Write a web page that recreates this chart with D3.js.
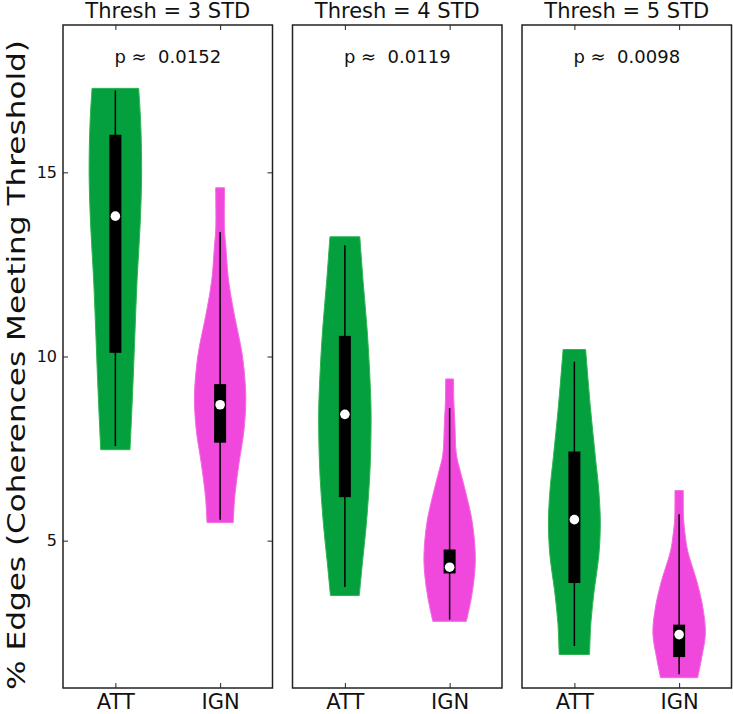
<!DOCTYPE html>
<html><head><meta charset="utf-8">
<script src="https://cdn.jsdelivr.net/npm/d3@7"></script>
<style>body{margin:0;background:#fff}text{font-family:"DejaVu Sans",sans-serif}</style>
</head><body>
<svg id="c" width="733" height="714"></svg>
<script>
// ---------- data ----------
const thresholds = ["Thresh = 3 STD", "Thresh = 4 STD", "Thresh = 5 STD"];
const pValues = ["0.0152", "0.0119", "0.0098"];
const groups = ["ATT", "IGN"];
const yTickValues = [5, 10, 15];
const yLabel = "% Edges (Coherences Meeting Threshold)";

const attMedian = [13.81, 8.43, 5.57];
const attQ1 = [10.10, 6.18, 3.85];
const attQ3 = [16.02, 10.56, 7.42];
const attWhiskerLo = [7.57, 3.74, 2.14];
const attWhiskerHi = [17.22, 13.02, 9.86];

const ignMedian = [8.69, 4.28, 2.45];
const ignQ1 = [7.66, 4.11, 1.84];
const ignQ3 = [9.25, 4.76, 2.72];
const ignWhiskerLo = [5.57, 2.86, 1.37];
const ignWhiskerHi = [13.38, 8.60, 5.72];

// density outline: [value, relative half-width]
const attDensity = [
  [[17.28,0.89],[16.6,0.95],[15.8,0.99],[14.8,1.0],[13.5,0.94],[12.1,0.83],[10.7,0.75],[9.4,0.68],[8.4,0.62],[7.47,0.56]],
  [[13.25,0.57],[12.0,0.70],[10.72,0.85],[9.5,0.95],[8.47,1.0],[7.11,0.97],[6.2,0.90],[5.3,0.80],[4.4,0.67],[3.51,0.55]],
  [[10.19,0.43],[8.64,0.61],[7.28,0.80],[6.38,0.93],[5.48,0.99],[4.57,0.93],[3.67,0.76],[2.77,0.63],[1.91,0.58]]
];
const ignDensity = [
  [[14.58,0.17],[13.8,0.16],[13.4,0.17],[12.97,0.22],[12.07,0.32],[11.18,0.53],[10.27,0.79],[9.8,0.89],[8.9,0.98],[8.0,0.91],[7.1,0.72],[6.2,0.56],[5.49,0.50]],
  [[9.39,0.15],[8.8,0.16],[8.2,0.20],[7.33,0.26],[6.88,0.41],[6.44,0.57],[5.52,0.86],[4.62,0.98],[4.08,0.95],[3.45,0.83],[2.81,0.64]],
  [[6.36,0.16],[5.61,0.17],[5.16,0.23],[4.71,0.33],[3.81,0.71],[3.08,0.93],[2.45,1.0],[1.82,0.86],[1.28,0.71]]
];

// ---------- layout / style ----------
const colors = {ATT: "#03a03d", IGN: "#f048dd"};
const edges = {ATT: "#2eb352", IGN: "#f46ae3"};
const plotTop = 25, plotBottom = 688, left0 = 63, panelW = 209.5, gap = 20;

const svg = d3.select("#c");
const y = d3.scaleLinear().domain([1, 19]).range([plotBottom, plotTop]);

const stats = {
  ATT: {med: attMedian, q1: attQ1, q3: attQ3, lo: attWhiskerLo, hi: attWhiskerHi, dens: attDensity},
  IGN: {med: ignMedian, q1: ignQ1, q3: ignQ3, lo: ignWhiskerLo, hi: ignWhiskerHi, dens: ignDensity}
};

thresholds.forEach((title, i) => {
  const left = left0 + i * (panelW + gap);
  const right = left + panelW;
  const x = d3.scalePoint().domain(groups).range([left, right]).padding(0.5);
  const halfMax = x.step() * 0.25;
  const g = svg.append("g");

  groups.forEach(grp => {
    const s = stats[grp];
    const cx = x(grp);
    const area = d3.area()
      .curve(d3.curveCatmullRom)
      .y(d => y(d[0]))
      .x0(d => cx - halfMax * d[1])
      .x1(d => cx + halfMax * d[1]);
    g.append("path").datum(s.dens[i])
      .attr("d", area)
      .attr("fill", colors[grp])
      .attr("stroke", edges[grp])
      .attr("stroke-width", 1);
    g.append("line")
      .attr("x1", cx).attr("x2", cx)
      .attr("y1", y(s.hi[i])).attr("y2", y(s.lo[i]))
      .attr("stroke", "#000").attr("stroke-width", 1.5);
    g.append("rect")
      .attr("x", cx - 6).attr("width", 12)
      .attr("y", y(s.q3[i])).attr("height", y(s.q1[i]) - y(s.q3[i]))
      .attr("fill", "#000");
    g.append("circle")
      .attr("cx", cx).attr("cy", y(s.med[i])).attr("r", 4.8)
      .attr("fill", "#fff");
  });

  const ya = g.append("g").attr("transform", `translate(${left},0)`)
    .call(d3.axisLeft(y).tickValues(yTickValues).tickSize(-5).tickPadding(6)
      .tickFormat(i === 0 ? d3.format("d") : () => ""));
  const yb = g.append("g").attr("transform", `translate(${right},0)`)
    .call(d3.axisRight(y).tickValues(yTickValues).tickSize(-5).tickFormat(() => ""));
  if (i !== 0) { ya.selectAll(".tick line").remove(); yb.selectAll(".tick line").remove(); }
  g.append("g").attr("transform", `translate(0,${plotTop})`)
    .call(d3.axisTop(x).tickSize(-5).tickFormat(() => ""));
  const xb = g.append("g").attr("transform", `translate(0,${plotBottom})`)
    .call(d3.axisBottom(x).tickSize(-5).tickPadding(6));
  g.selectAll(".domain").remove();
  g.selectAll(".tick line").attr("stroke", "#222").attr("stroke-width", 1);
  ya.selectAll("text").attr("font-size", 16).attr("fill", "#111").style("font-family", "DejaVu Sans");
  xb.selectAll("text").attr("font-size", 21).attr("fill", "#111").style("font-family", "DejaVu Sans");

  g.append("rect")
    .attr("x", left).attr("y", plotTop).attr("width", panelW).attr("height", plotBottom - plotTop)
    .attr("fill", "none").attr("stroke", "#222").attr("stroke-width", 1.5);

  g.append("text").attr("x", (left + right) / 2).attr("y", 18)
    .attr("text-anchor", "middle").attr("font-size", 21).attr("fill", "#111")
    .text(title);
  g.append("text").attr("x", (left + right) / 2).attr("y", 62.5)
    .attr("text-anchor", "middle").attr("font-size", 18).attr("fill", "#111")
    .style("white-space", "pre")
    .text("p \u2248  " + pValues[i]);
});

svg.append("text")
  .attr("transform", `translate(25,365) rotate(-90)`)
  .attr("text-anchor", "middle").attr("font-size", 25).attr("fill", "#111")
  .attr("textLength", 650).attr("lengthAdjust", "spacingAndGlyphs")
  .text(yLabel);
</script>
</body></html>
